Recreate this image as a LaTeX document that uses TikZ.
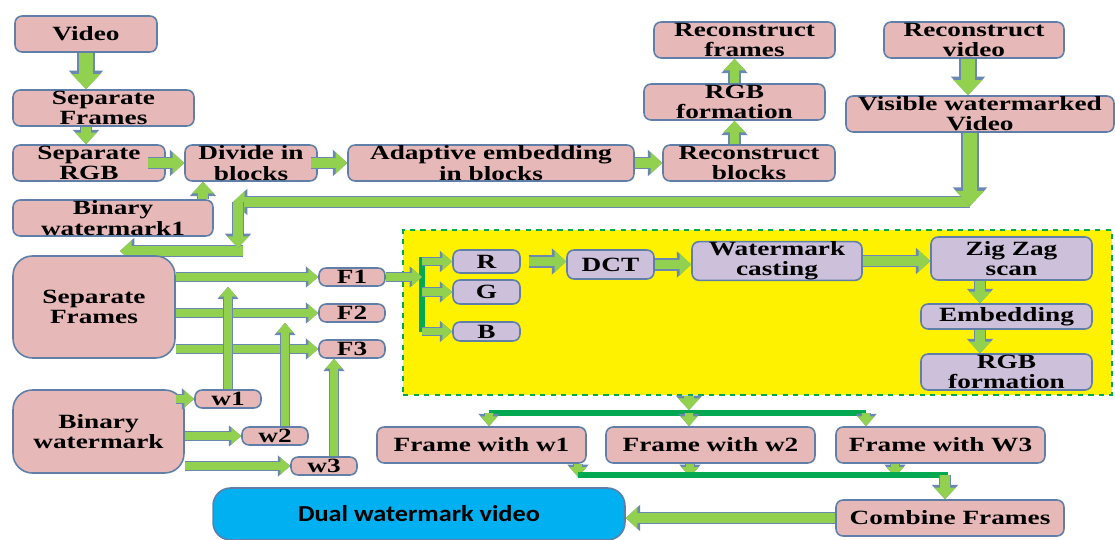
\documentclass[tikz,border=0pt]{standalone}
\usepackage{fontspec}
\setmainfont{Liberation Serif}[FakeStretch=1.35]
\newfontfamily\dualfont{Carlito}[FakeStretch=1.15]
\usetikzlibrary{arrows.meta}

\definecolor{pinkfill}{HTML}{E6B9B8}
\definecolor{lilacfill}{HTML}{CCC0DA}
\definecolor{boxedge}{HTML}{5F7FA8}
\definecolor{arrowfill}{HTML}{92D050}
\definecolor{arrowedge}{HTML}{6A88B0}
\definecolor{darkgreen}{HTML}{00A84F}
\definecolor{bluefill}{HTML}{00B0F0}

\begin{document}
\begin{tikzpicture}[x=0.02cm, y=-0.02cm,
    box/.style={draw=boxedge, line width=0.9pt, rounded corners=4pt, align=center,
        inner sep=0pt, minimum height=0.72cm, font=\bfseries\fontsize{11.5}{11.5}\selectfont},
    pinkbox/.style={box, fill=pinkfill},
    lilacbox/.style={box, fill=lilacfill},
    bigarrow/.style={preaction={draw=arrowedge, line width=10pt, -{Triangle[length=10.6pt, width=19pt]}},
        draw=arrowfill, line width=8pt, -{Triangle[length=8.6pt, width=16pt]}},
    midarrow/.style={preaction={draw=arrowedge, line width=7.2pt, -{Triangle[length=8.2pt, width=14.6pt]}},
        draw=arrowfill, line width=5.4pt, -{Triangle[length=6.6pt, width=12pt]}},
    smallarrow/.style={preaction={draw=arrowedge, line width=5.6pt, -{Triangle[length=7pt, width=11.6pt]}},
        draw=arrowfill, line width=4pt, -{Triangle[length=5.6pt, width=9.4pt]}},
    greenline/.style={draw=darkgreen, line width=3pt}]

    \useasboundingbox (0,0) rectangle (1115,540);

    % Yellow area
    \node[draw=darkgreen, dashed, line width=0.7pt, fill=yellow, minimum width=14.18cm,
        minimum height=3.3cm] (wmbox) at (757.5,312.5) {};

    % Visible watermark part
    \node[pinkbox, minimum width=2.84cm] (video) at (86,34) {Video};
    \node[pinkbox, minimum width=3.62cm] (sepframes) at (103.5,108) {Separate\\Frames};
    \node[pinkbox, minimum width=3.04cm] (seprgb) at (89,163) {Separate\\RGB};
    \node[pinkbox, minimum width=2.64cm] (divide) at (251,163) {Divide in\\blocks};
    \node[pinkbox, minimum width=4.0cm] (binwmone) at (113,218) {Binary\\watermark1};
    \node[pinkbox, minimum width=5.72cm] (adaptive) at (491,163) {Adaptive embedding\\in blocks};
    \node[pinkbox, minimum width=3.44cm] (recblocks) at (749,163) {Reconstruct\\blocks};
    \node[pinkbox, minimum width=3.62cm] (rgbtop) at (734.5,102) {RGB\\formation};
    \node[pinkbox, minimum width=3.62cm] (recframes) at (744.5,40) {Reconstruct\\frames};
    \node[pinkbox, minimum width=3.6cm] (recvideo) at (974,40) {Reconstruct\\video};
    \node[pinkbox, minimum width=5.36cm] (visible) at (980,114) {Visible watermarked\\Video};

    \draw[bigarrow] (video.south) -- (video.south |- sepframes.north);
    \draw[midarrow] (video.south |- sepframes.south) -- (video.south |- seprgb.north);
    \draw[midarrow] ([xshift=-0.36cm]seprgb.east) -- (divide.west);
    \draw[midarrow] ([xshift=1.8cm]binwmone.north) -- ([xshift=1.8cm]binwmone.north |- divide.south);
    \draw[midarrow] ([xshift=-0.14cm]divide.east) -- (adaptive.west);
    \draw[midarrow] (adaptive.east) -- (recblocks.west);
    \draw[midarrow] (rgbtop.south |- recblocks.north) -- (rgbtop.south);
    \draw[midarrow] (rgbtop.north) -- (rgbtop.north |- recframes.south);
    \draw[bigarrow] ([xshift=-0.12cm]recvideo.south) -- ([xshift=-0.12cm]recvideo.south |- visible.north);

    % Back to the second watermark
    \coordinate (back1) at (970,206);
    \coordinate (back2) at (238,202);
    \coordinate (back3) at (238,251);
    \coordinate (back4) at (120,251);
    \draw[midarrow] (back1 |- back2) -- ([xshift=-0.1cm]back2);
    \draw[bigarrow] (visible.south -| back1) -- (back1);
    \draw[midarrow] ([xshift=0.1cm]back3) -- (back4);
    \draw[midarrow] (back2) -- ([yshift=0.06cm]back3);

    % Frames and watermark parts
    \node[pinkbox, rounded corners=11pt, minimum width=3.24cm, minimum height=2.04cm] (frames) at (94,307) {Separate\\Frames};
    \node[pinkbox, rounded corners=11pt, minimum width=3.42cm, minimum height=1.66cm] (binwm) at (98.5,431.5) {Binary\\watermark};
    \node[pinkbox, minimum width=1.32cm, minimum height=0.36cm] (fone) at (352,277) {F1};
    \node[pinkbox, minimum width=1.32cm, minimum height=0.36cm] (ftwo) at (352,313) {F2};
    \node[pinkbox, minimum width=1.32cm, minimum height=0.36cm] (fthree) at (352,349) {F3};
    \node[pinkbox, minimum width=1.32cm, minimum height=0.36cm] (wone) at (228,399) {w1};
    \node[pinkbox, minimum width=1.32cm, minimum height=0.36cm] (wtwo) at (275,436) {w2};
    \node[pinkbox, minimum width=1.32cm, minimum height=0.36cm] (wthree) at (324,466) {w3};

    \draw[smallarrow] (fone.west -| frames.east) -- (fone.west);
    \draw[smallarrow] (ftwo.west -| frames.east) -- (ftwo.west);
    \draw[smallarrow] (fthree.west -| frames.east) -- (fthree.west);
    \draw[smallarrow] (wone.north) -- (wone.north |- fone.south);
    \draw[smallarrow] ([xshift=0.2cm]wtwo.north) -- ([xshift=0.2cm]wtwo.north |- ftwo.south);
    \draw[smallarrow] ([xshift=0.2cm]wthree.north) -- ([xshift=0.2cm]wthree.north |- fthree.south);
    \draw[smallarrow] ([xshift=-0.18cm]binwm.east |- wone.west) -- (wone.west);
    \draw[smallarrow] (binwm.east |- wtwo.west) -- (wtwo.west);
    \draw[smallarrow] (binwm.east |- wthree.west) -- (wthree.west);

    % Inside the yellow area
    \node[lilacbox, minimum width=1.34cm, minimum height=0.46cm] (r) at (486.5,261.5) {R};
    \node[lilacbox, minimum width=1.34cm, minimum height=0.48cm] (g) at (486.5,292) {G};
    \node[lilacbox, minimum width=1.34cm, minimum height=0.38cm] (b) at (486.5,331.5) {B};
    \node[lilacbox, minimum width=1.74cm, minimum height=0.58cm] (dct) at (610.5,264.5) {DCT};
    \node[lilacbox, minimum width=3.4cm] (casting) at (777,261) {Watermark\\casting};
    \node[lilacbox, minimum width=3.22cm, minimum height=0.86cm] (zigzag) at (1011.5,258.5) {Zig Zag\\scan};
    \node[lilacbox, minimum width=3.42cm, minimum height=0.5cm] (embed) at (1006.5,316.5) {Embedding};
    \node[lilacbox, minimum width=3.42cm] (rgbin) at (1006.5,372) {RGB\\formation};

    \coordinate (bartop) at (422,257);
    \coordinate (barbot) at (422,332);
    \draw[greenline] (bartop) -- (barbot);
    \draw[smallarrow] (fone.east) -- (fone.east -| bartop);
    \draw[smallarrow] (r.west -| bartop) -- (r.west);
    \draw[smallarrow] (g.west -| bartop) -- (g.west);
    \draw[smallarrow] (b.west -| bartop) -- (b.west);
    \draw[midarrow] ([xshift=0.16cm]r.east) -- (r.east -| dct.west);
    \draw[midarrow] (dct.east) -- (dct.east -| casting.west);
    \draw[midarrow] (casting.east) -- (casting.east -| zigzag.west);
    \draw[midarrow] ([xshift=-0.63cm]zigzag.south) -- ([xshift=-0.63cm]zigzag.south |- embed.north);
    \draw[midarrow] ([xshift=-0.53cm]embed.south) -- ([xshift=-0.53cm]embed.south |- rgbin.north);

    % Frames with watermarks
    \node[pinkbox, minimum width=4.18cm] (fwone) at (481.5,445) {Frame with w1};
    \node[pinkbox, minimum width=4.18cm] (fwtwo) at (710.5,445) {Frame with w2};
    \node[pinkbox, minimum width=4.18cm] (fwthree) at (940.5,445) {Frame with W3};
    \node[draw=boxedge, line width=0.9pt, fill=bluefill, rounded corners=10pt, minimum width=8.24cm,
        minimum height=1.04cm, font=\dualfont\bfseries\fontsize{13}{13}\selectfont] (dual) at (419,514) {Dual watermark video};
    \node[pinkbox, minimum width=4.56cm] (combine) at (950,518) {Combine Frames};

    \coordinate (forkl) at (489,413);
    \coordinate (fork) at (689,413);
    \coordinate (forkr) at (866,413);
    \draw[greenline] (forkl) -- (forkr);
    \draw[midarrow] (fork |- wmbox.south) -- ([yshift=0.06cm]fork);
    \draw[smallarrow] (forkl) -- (forkl |- fwone.north);
    \draw[smallarrow] (fork) -- (fork |- fwtwo.north);
    \draw[smallarrow] (forkr) -- (forkr |- fwthree.north);

    \coordinate (joinl) at (578,475);
    \coordinate (join) at (690,475);
    \coordinate (joinm) at (895,475);
    \coordinate (joinr) at (948,475);
    \draw[smallarrow] (joinl |- fwone.south) -- ([yshift=-0.04cm]joinl);
    \draw[smallarrow] (join |- fwtwo.south) -- ([yshift=-0.04cm]join);
    \draw[smallarrow] (joinm |- fwthree.south) -- ([yshift=-0.04cm]joinm);
    \draw[greenline] (joinl) -- (joinr);
    \draw[midarrow] ([xshift=-0.1cm]combine.north |- joinr) -- ([xshift=-0.1cm]combine.north);
    \draw[midarrow] (combine.west) -- (combine.west -| dual.east);

\end{tikzpicture}
\end{document}
